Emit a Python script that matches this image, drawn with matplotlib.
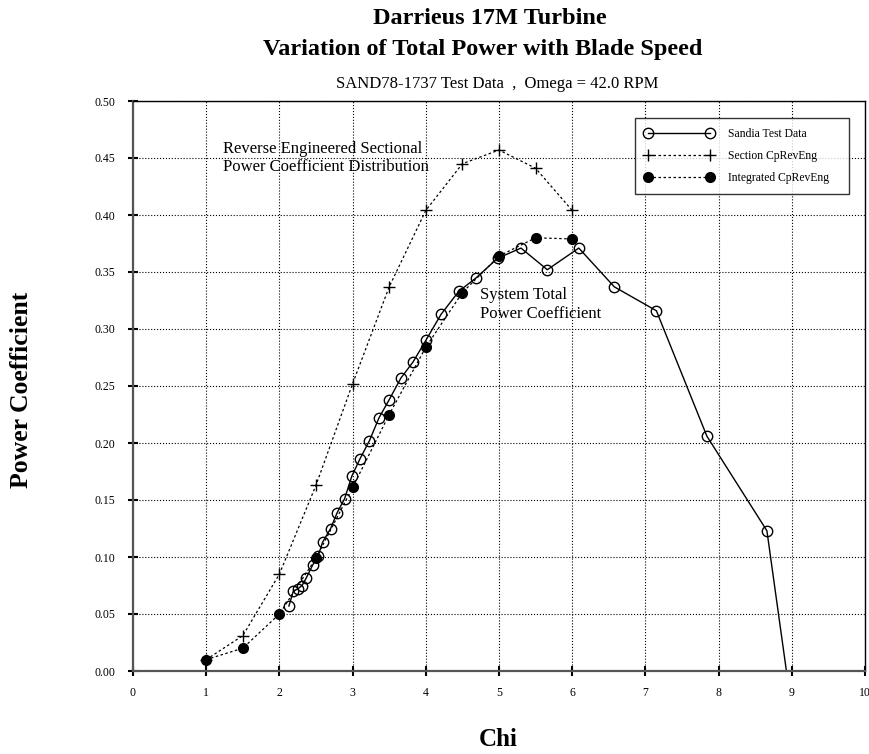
import numpy as np
import matplotlib
matplotlib.use("Agg")
import matplotlib.pyplot as plt
from matplotlib.ticker import MultipleLocator

plt.rcParams['font.family'] = ['Liberation Serif', 'DejaVu Serif']

# Sandia test data (open circles, solid line)
chi_test = [2.13, 2.19, 2.25, 2.31, 2.37, 2.455, 2.53, 2.59, 2.70, 2.79, 2.89, 2.99,
            3.10, 3.23, 3.36, 3.50, 3.66, 3.825, 4.00, 4.21, 4.45, 4.69, 4.98, 5.30,
            5.66, 6.09, 6.575, 7.15, 7.84, 8.66, 9.00]
cp_test = [0.057, 0.070, 0.072, 0.075, 0.082, 0.093, 0.101, 0.113, 0.125, 0.139, 0.151, 0.171,
           0.186, 0.202, 0.222, 0.238, 0.257, 0.271, 0.290, 0.313, 0.333, 0.345, 0.362, 0.371,
           0.352, 0.371, 0.337, 0.316, 0.206, 0.123, -0.034]

# Section CpRevEng (plus markers, dotted)
chi_sec = [1.0, 1.5, 2.0, 2.5, 3.0, 3.5, 4.0, 4.5, 5.0, 5.5, 6.0]
cp_sec = [0.010, 0.031, 0.085, 0.163, 0.252, 0.337, 0.404, 0.445, 0.457, 0.441, 0.404]

# Integrated CpRevEng (filled circles, dotted)
chi_int = [1.0, 1.5, 2.0, 2.5, 3.0, 3.5, 4.0, 4.5, 5.0, 5.5, 6.0]
cp_int = [0.010, 0.020, 0.050, 0.099, 0.161, 0.225, 0.284, 0.332, 0.364, 0.380, 0.379]

fig = plt.figure(figsize=(8.7, 7.54), dpi=100)
ax = fig.add_axes([133/870, 83/754, 732/870, 570/754])

ax.plot(chi_test, cp_test, color='black', linewidth=1.0, marker='o', markersize=7.5,
        markerfacecolor='none', markeredgewidth=1.0, label='Sandia Test Data')
ax.plot(chi_sec, cp_sec, color='black', linewidth=0.9, linestyle=(0, (2, 2)), marker='+',
        markersize=8, markeredgewidth=1.0, label='Section CpRevEng')
ax.plot(chi_int, cp_int, color='black', linewidth=0.9, linestyle=(0, (2, 2)), marker='o',
        markersize=7, label='Integrated CpRevEng')

ax.set_xlim(0, 10)
ax.set_ylim(0, 0.5)
ax.xaxis.set_major_locator(MultipleLocator(1))
ax.set_yticks(np.arange(0, 0.501, 0.05))
ax.set_yticklabels([f"{v:.2f}" for v in np.arange(0, 0.501, 0.05)])
ax.grid(True, linestyle=':', color='black', linewidth=0.8)
ax.tick_params(axis='both', which='major', direction='inout', length=7, width=1.5,
               labelsize=8.5)
ax.tick_params(axis='x', pad=8)
ax.tick_params(axis='y', pad=9)
ax.tick_params(top=False, right=False)
for side in ['left', 'bottom']:
    ax.spines[side].set_linewidth(1.6)
    ax.spines[side].set_color('#555555')
for side in ['top', 'right']:
    ax.spines[side].set_linewidth(1.0)

ax.text(1.23, 0.450, "Reverse Engineered Sectional\nPower Coefficient Distribution",
        fontsize=12, ha='left', va='center', linespacing=1.2)
ax.text(4.74, 0.3215, "System Total\nPower Coefficient",
        fontsize=12, ha='left', va='center', linespacing=1.2)

leg = ax.legend(loc='upper left', bbox_to_anchor=(635/870, 1 - 199/754, 214/870, 81/754),
                bbox_transform=fig.transFigure, mode='expand', numpoints=2, fontsize=8.4,
                fancybox=False, edgecolor='black', handlelength=5.9,
                handletextpad=1.25, labelspacing=0.88, borderpad=0.85, borderaxespad=0)
leg.get_frame().set_linewidth(1.0)

fig.text(490/870, 1 - 18/754, "Darrieus 17M Turbine", fontsize=17.5, fontweight='bold',
         ha='center', va='center')
fig.text(483/870, 1 - 50/754, "Variation of Total Power with Blade Speed", fontsize=17.5,
         fontweight='bold', ha='center', va='center')
fig.text(497/870, 1 - 84/754, "SAND78-1737 Test Data  ,  Omega = 42.0 RPM", fontsize=12,
         ha='center', va='center')
fig.text(22/870, 1 - 390/754, "Power Coefficient", fontsize=18.5, fontweight='bold',
         rotation=90, ha='center', va='center')
fig.text(498/870, 1 - 740/754, "Chi", fontsize=18, fontweight='bold',
         ha='center', va='center')

fig.savefig("out.png", dpi=100)
